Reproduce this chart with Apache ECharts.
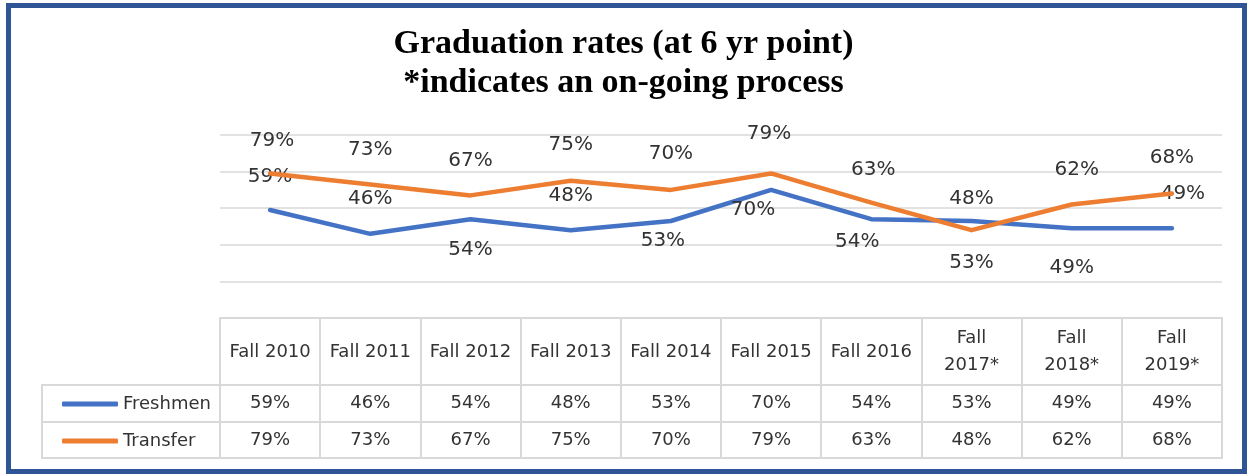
<!DOCTYPE html>
<html>
<head>
<meta charset="utf-8">
<script src="https://cdn.jsdelivr.net/npm/echarts@6/dist/echarts.min.js"></script>
<style>
  html, body { margin: 0; padding: 0; background: #fff; }
  #chart { width: 1247px; height: 474px; }
</style>
</head>
<body>
<div id="chart"></div>
<script>
// ---- data ----
const categories = ['Fall 2010', 'Fall 2011', 'Fall 2012', 'Fall 2013', 'Fall 2014',
                    'Fall 2015', 'Fall 2016', 'Fall 2017*', 'Fall 2018*', 'Fall 2019*'];
const freshmen = [59, 46, 54, 48, 53, 70, 54, 53, 49, 49];
const transfer = [79, 73, 67, 75, 70, 79, 63, 48, 62, 68];
const seriesNames = ['Freshmen', 'Transfer'];
const titleLines = ['Graduation rates (at 6 yr point)', '*indicates an on-going process'];

// ---- label placement (style, not data) ----
const freshLabelOffset = [[0, -33], [0, -35], [0, 31], [0, -34], [-8, 20],
                          [-18, 20], [-14, 23], [0, 42], [0, 39], [11, -35]];
const transLabelOffset = [[2, -33], [0, -35], [0, -35], [0, -36], [0, -36],
                          [-2, -40], [2, -33], [0, -31], [5, -35], [0, -36]];

const chart = echarts.init(document.getElementById('chart'), null, { renderer: 'canvas' });

const GRID = '#d9d9d9';
const TXT = '#333333';
const FONT = 'DejaVu Sans';

function withLabels(values, offsets) {
  return values.map((v, i) => ({
    value: v,
    label: { offset: offsets[i] }
  }));
}

function tableAxis(offset, tickLen, labelFn, margin, showTick) {
  return {
    type: 'category',
    data: categories,
    position: 'bottom',
    offset: offset,
    boundaryGap: true,
    axisLine: { show: true, lineStyle: { color: GRID, width: 2 } },
    axisTick: { show: showTick, interval: 0, length: tickLen, lineStyle: { color: GRID, width: 2 } },
    axisLabel: labelFn ? {
      show: true, interval: 0, margin: margin, verticalAlign: 'middle',
      color: TXT, fontFamily: FONT, fontSize: 18, lineHeight: 27,
      formatter: labelFn
    } : { show: false },
    splitLine: { show: false }
  };
}

const option = {
  backgroundColor: '#ffffff',
  animation: false,
  title: {
    text: titleLines.join('\n'),
    left: 'center',
    top: 20,
    textStyle: {
      fontFamily: 'Liberation Serif', fontWeight: 'bold', fontSize: 34,
      lineHeight: 39, color: '#000000'
    }
  },
  legend: {
    orient: 'vertical',
    left: 57,
    top: 390,
    itemWidth: 56,
    itemHeight: 5,
    itemGap: 19,
    icon: 'roundRect',
    data: seriesNames,
    textStyle: { fontFamily: FONT, fontSize: 18, lineHeight: 18, color: TXT }
  },
  grid: { left: 220, right: 25, top: 135, bottom: 156, containLabel: false },
  xAxis: [
    tableAxis(0, 67, v => v.indexOf('*') >= 0 ? v.replace(' ', '\n') : v, 34, true),
    tableAxis(67, 37, (v, i) => freshmen[i] + '%', 18, true),
    tableAxis(104, 36, (v, i) => transfer[i] + '%', 18, true),
    tableAxis(140, 0, null, 0, false)
  ],
  yAxis: {
    type: 'value',
    min: 0, max: 100, interval: 20,
    axisLine: { show: false },
    axisTick: { show: false },
    axisLabel: { show: false },
    splitLine: { show: true, lineStyle: { color: GRID, width: 1.5 } }
  },
  series: [
    {
      name: seriesNames[0],
      type: 'line',
      xAxisIndex: 0,
      data: withLabels(freshmen, freshLabelOffset),
      symbol: 'circle',
      symbolSize: 0.1,
      showSymbol: true,
      color: '#4472C4',
      lineStyle: { width: 4.5, color: '#4472C4', cap: 'round', join: 'round' },
      label: {
        show: true, position: 'inside', formatter: '{c}%',
        color: TXT, fontFamily: FONT, fontSize: 20
      },
      z: 3
    },
    {
      name: seriesNames[1],
      type: 'line',
      xAxisIndex: 0,
      data: withLabels(transfer, transLabelOffset),
      symbol: 'circle',
      symbolSize: 0.1,
      showSymbol: true,
      color: '#ED7D31',
      lineStyle: { width: 4.5, color: '#ED7D31', cap: 'round', join: 'round' },
      label: {
        show: true, position: 'inside', formatter: '{c}%',
        color: TXT, fontFamily: FONT, fontSize: 20
      },
      z: 4
    }
  ],
  graphic: [
    { type: 'line', shape: { x1: 42, y1: 385, x2: 221, y2: 385 }, style: { stroke: GRID, lineWidth: 2 } },
    { type: 'line', shape: { x1: 42, y1: 422, x2: 221, y2: 422 }, style: { stroke: GRID, lineWidth: 2 } },
    { type: 'line', shape: { x1: 42, y1: 458, x2: 221, y2: 458 }, style: { stroke: GRID, lineWidth: 2 } },
    { type: 'line', shape: { x1: 42, y1: 384, x2: 42, y2: 459 }, style: { stroke: GRID, lineWidth: 2 } },
    { type: 'line', shape: { x1: 220, y1: 384, x2: 220, y2: 459 }, style: { stroke: GRID, lineWidth: 2 } },
    { type: 'rect', shape: { x: 8.5, y: 5.5, width: 1236, height: 466 },
      style: { fill: 'none', stroke: '#2F5597', lineWidth: 5 }, z: 100 }
  ]
};

chart.setOption(option);
</script>
</body>
</html>
